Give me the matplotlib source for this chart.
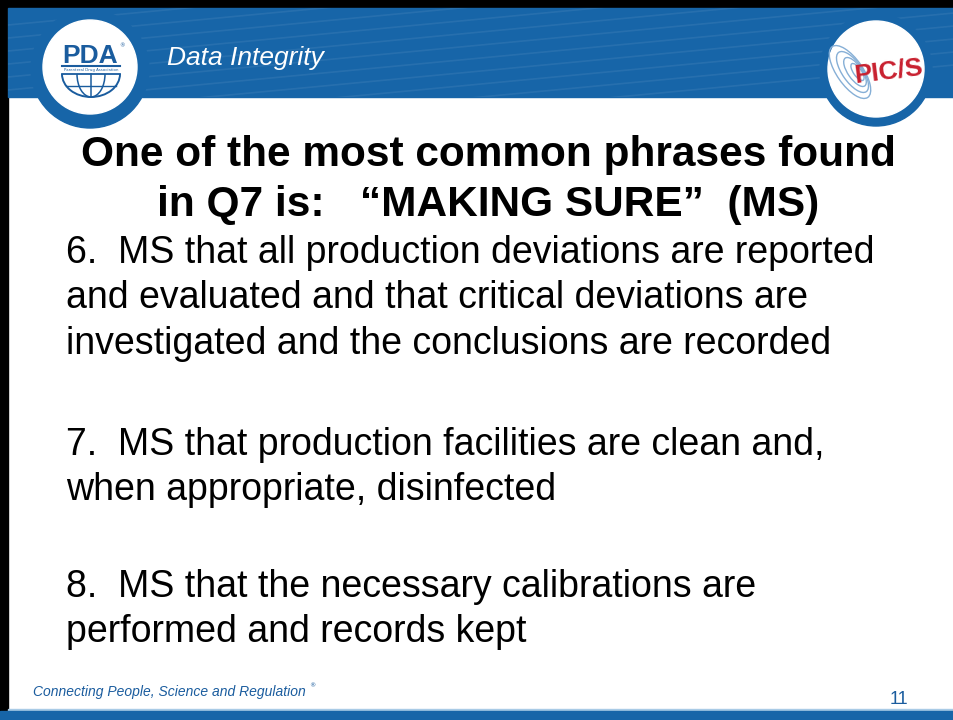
import matplotlib.pyplot as plt
from matplotlib.patches import Circle, Rectangle, Ellipse, Arc

header_label = "Data Integrity"
title_lines = ["One of the most common phrases found",
               "in Q7 is:   \u201cMAKING SURE\u201d  (MS)"]
item_6 = ["6.  MS that all production deviations are reported",
          "and evaluated and that critical deviations are",
          "investigated and the conclusions are recorded"]
item_7 = ["7.  MS that production facilities are clean and,",
          "when appropriate, disinfected"]
item_8 = ["8.  MS that the necessary calibrations are",
          "performed and records kept"]
footer_label = "Connecting People, Science and Regulation"
page_number = "11"

blue = "#1765a8"
dark_blue = "#1a5c9e"

fig = plt.figure(figsize=(9.54, 7.2), dpi=100)
ax = fig.add_axes([0, 0, 1, 1])
ax.set_xlim(0, 954)
ax.set_ylim(720, 0)
ax.axis("off")

# frame
ax.add_patch(Rectangle((0, 0), 954, 8, color="black", zorder=1))
ax.add_patch(Rectangle((0, 0), 8, 711, color="black", zorder=1))

# header band with faint stripes
band = Rectangle((8, 8), 946, 89, color=blue, zorder=1)
ax.add_patch(band)
for k in range(11):
    y0 = 25 + k * 13
    ln, = ax.plot([8, 954], [y0, y0 - 90], color="white", alpha=0.07, lw=1.2, zorder=2)
    ln.set_clip_path(band)

# PDA logo
ax.add_patch(Circle((90, 69), 59, color=blue, zorder=4))
ax.add_patch(Circle((90, 67), 47, color="white", zorder=5))
ax.text(90, 63, "PDA", fontsize=19, fontweight="bold", color=dark_blue,
        ha="center", va="baseline", family="Liberation Sans", zorder=6)
ax.text(122, 46, "\u00ae", fontsize=4, color=dark_blue, ha="center", va="center", zorder=6)
ax.plot([62, 120], [66, 66], color=dark_blue, lw=1.5, zorder=6)
ax.text(91, 69.5, "Parenteral Drug Association", fontsize=2.8, color=dark_blue,
        ha="center", va="center", zorder=6)
ax.plot([62, 120], [74, 74], color=dark_blue, lw=1.3, zorder=6)
ax.add_patch(Arc((91, 74), 58, 46, theta1=0, theta2=180, color=dark_blue, lw=1.4, zorder=6))
ax.add_patch(Arc((91, 74), 28, 46, theta1=0, theta2=180, color=dark_blue, lw=1.1, zorder=6))
ax.plot([91, 91], [74, 97], color=dark_blue, lw=1.1, zorder=6)
ax.plot([66, 116], [86, 86], color=dark_blue, lw=1.0, zorder=6)

# PIC/S logo
ax.add_patch(Circle((876, 70), 56, color=blue, zorder=4))
ax.add_patch(Circle((876, 69), 48, color="white", zorder=5))
for k, (w, h) in enumerate([(26, 62), (20, 48), (14, 34), (8, 20)]):
    ax.add_patch(Ellipse((850 + k * 2.5, 72), w, h, angle=-35, fill=False,
                         color="#86afd6", lw=1.0, zorder=6))
ax.text(889, 71, "PIC/S", fontsize=19, fontweight="bold", color="#c8202f",
        ha="center", va="center", rotation=7, family="Liberation Sans", zorder=7)

ax.text(167, 58, header_label, fontsize=19, style="italic", color="white",
        ha="left", va="center", family="Liberation Sans", zorder=6)

# title
for i, line in enumerate(title_lines):
    ax.text(488, 166 + i * 50, line, fontsize=30.5, fontweight="bold", color="black",
            ha="center", va="baseline", family="Liberation Sans", zorder=6)

# body
body = [(item_6, 263), (item_7, 455), (item_8, 597)]
for lines, y0 in body:
    for i, line in enumerate(lines):
        ax.text(66, y0 + i * 45.5, line, fontsize=27, color="black",
                ha="left", va="baseline", family="Liberation Sans", zorder=6)

# footer
ax.text(33, 696, footer_label, fontsize=10, style="italic", color=dark_blue,
        ha="left", va="baseline", family=["Liberation Sans Narrow", "Liberation Sans"],
        zorder=6)
ax.text(312, 686, "\u00ae", fontsize=4.5, color=dark_blue, ha="center", va="center", zorder=6)
ax.text(890, 704, page_number, fontsize=13, color=dark_blue,
        ha="left", va="baseline", family="Liberation Sans", zorder=6)
ax.add_patch(Rectangle((8, 708.5), 946, 2.5, color="#a9cbe6", zorder=6))
ax.add_patch(Rectangle((0, 711), 954, 9, color=blue, zorder=6))

fig.savefig("out.png", dpi=100)
